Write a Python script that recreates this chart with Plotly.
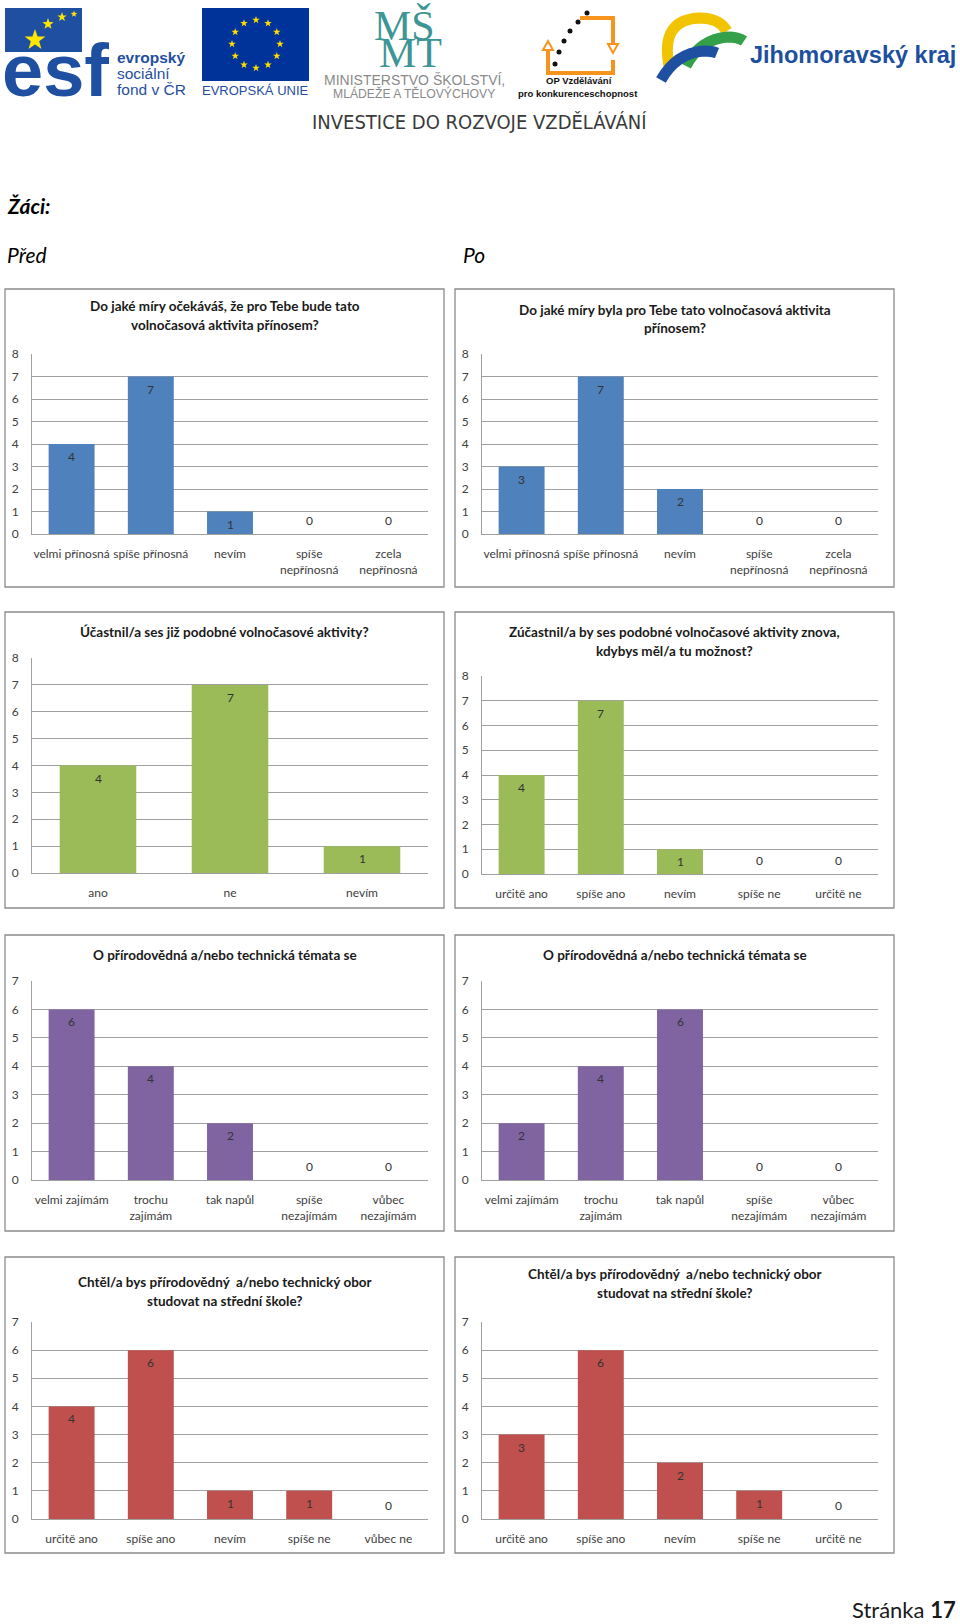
import math
import plotly.graph_objects as go

W, H = 960, 1624

# ---------------- data ----------------
t1_pred = "Do jaké míry očekáváš, že pro Tebe bude tato<br>volnočasová aktivita přínosem?"
c1 = ["velmi přínosná", "spíše přínosná", "nevím", "spíše<br>nepřínosná", "zcela<br>nepřínosná"]
v1_pred = [4, 7, 1, 0, 0]
t1_po = "Do jaké míry byla pro Tebe tato volnočasová aktivita<br>přínosem?"
v1_po = [3, 7, 2, 0, 0]

t2_pred = "Účastnil/a ses již podobné volnočasové aktivity?"
c2_pred = ["ano", "ne", "nevím"]
v2_pred = [4, 7, 1]
t2_po = "Zúčastnil/a by ses podobné volnočasové aktivity znova,<br>kdybys měl/a tu možnost?"
c2_po = ["určitě ano", "spíše ano", "nevím", "spíše ne", "určitě ne"]
v2_po = [4, 7, 1, 0, 0]

t3 = "O přírodovědná a/nebo technická témata se"
c3 = ["velmi zajímám", "trochu<br>zajímám", "tak napůl", "spíše<br>nezajímám", "vůbec<br>nezajímám"]
v3_pred = [6, 4, 2, 0, 0]
v3_po = [2, 4, 6, 0, 0]

t4 = "Chtěl/a bys přírodovědný  a/nebo technický obor<br>studovat na střední škole?"
c4_pred = ["určitě ano", "spíše ano", "nevím", "spíše ne", "vůbec ne"]
v4_pred = [4, 6, 1, 1, 0]
c4_po = ["určitě ano", "spíše ano", "nevím", "spíše ne", "určitě ne"]
v4_po = [3, 6, 2, 1, 0]

ymax = [8, 8, 8, 8, 7, 7, 7, 7]

# ---------------- styles ----------------
BLUE, GREEN, PURPLE, RED = "#4F81BD", "#9BBB59", "#8064A2", "#C0504D"
FONT = "Lato, 'Noto Sans', sans-serif"
SANS = "'Liberation Sans', Arial, sans-serif"
NARROW = "'Liberation Sans Narrow', 'DejaVu Sans Condensed', 'Liberation Sans', sans-serif"
GRID = "#a0a0a0"
ESFB = "#1f4fa0"

charts = [
    (t1_pred, c1, v1_pred, BLUE), (t1_po, c1, v1_po, BLUE),
    (t2_pred, c2_pred, v2_pred, GREEN), (t2_po, c2_po, v2_po, GREEN),
    (t3, c3, v3_pred, PURPLE), (t3, c3, v3_po, PURPLE),
    (t4, c4_pred, v4_pred, RED), (t4, c4_po, v4_po, RED),
]

# panel geometry (pixels)
boxes = [(5, 289, 444, 587), (455, 289, 894, 587),
         (5, 612, 444, 908), (455, 612, 894, 908),
         (5, 935, 444, 1231), (455, 935, 894, 1231),
         (5, 1257, 444, 1553), (455, 1257, 894, 1553)]
plots = [(32, 354, 428, 534), (482, 354, 878, 534),
         (32, 658, 428, 873), (482, 676, 878, 874),
         (32, 981, 428, 1180), (482, 981, 878, 1180),
         (32, 1322, 428, 1519), (482, 1322, 878, 1519)]
title_ys = [[306, 325], [310, 328], [632], [632, 651], [955], [955], [1282, 1301], [1274, 1293]]


def PX(x):
    return x / W


def PY(y):
    return 1 - y / H


def pth(cmds):
    out = []
    for c in cmds:
        if isinstance(c, str):
            out.append(c)
        else:
            out.append(f"{PX(c[0]):.5f},{PY(c[1]):.5f}")
    return " ".join(out)


def star_path(cx, cy, r):
    cmds = []
    for k in range(10):
        rr = r if k % 2 == 0 else r * 0.4
        a = math.pi * k / 5
        cmds += ["M" if k == 0 else "L", (cx + rr * math.sin(a), cy - rr * math.cos(a))]
    cmds.append("Z")
    return pth(cmds)


fig = go.Figure()
layout = {}
annotations = []
shapes = []

for i, (title, cats, vals, color) in enumerate(charts):
    n = i + 1
    sx = "" if n == 1 else str(n)
    xa, ya = "x" + sx, "y" + sx
    fig.add_trace(go.Bar(x=cats, y=vals, marker=dict(color=color, line=dict(width=0)),
                         xaxis=xa, yaxis=ya, showlegend=False, hoverinfo="skip"))
    x0, yt, x1, yb = plots[i]
    layout["xaxis" + sx] = dict(domain=[PX(x0), PX(x1)], anchor=ya, type="category",
                                showline=True, linecolor=GRID, linewidth=1, showgrid=False,
                                ticks="", tickangle=0, ticklabelstandoff=9, fixedrange=True,
                                automargin=False,
                                tickfont=dict(family=FONT, size=12, color="#404040"))
    layout["yaxis" + sx] = dict(domain=[PY(yb), PY(yt)], anchor=xa, range=[0, ymax[i]],
                                dtick=1, showgrid=True, gridcolor=GRID, gridwidth=1,
                                showline=True, linecolor=GRID, linewidth=1, zeroline=False,
                                ticks="", ticklabelstandoff=10, fixedrange=True,
                                automargin=False,
                                tickfont=dict(family=FONT, size=12, color="#404040"))
    for c, v in zip(cats, vals):
        annotations.append(dict(x=c, y=v, xref=xa, yref=ya, text=str(v), showarrow=False,
                                yanchor="top" if v > 0 else "bottom",
                                yshift=-3 if v > 0 else 4,
                                font=dict(family=FONT, size=12, color="#333333")))
    bx0, by0, bx1, by1 = boxes[i]
    shapes.append(dict(type="rect", xref="paper", yref="paper", x0=PX(bx0), x1=PX(bx1),
                       y0=PY(by1), y1=PY(by0), line=dict(color="#8c8c8c", width=1.3),
                       fillcolor="rgba(0,0,0,0)", layer="below"))
    for line, ty in zip(title.split("<br>"), title_ys[i]):
        annotations.append(dict(x=PX((bx0 + bx1) / 2), y=PY(ty), xref="paper", yref="paper",
                                text="<b>" + line + "</b>", showarrow=False,
                                xanchor="center", yanchor="middle",
                                font=dict(family=FONT, size=13.5, color="#1a1a1a")))


def txt(x, y, s, size, color, family=SANS, xanchor="left"):
    annotations.append(dict(x=PX(x), y=PY(y), xref="paper", yref="paper", text=s,
                            showarrow=False, xanchor=xanchor, yanchor="middle",
                            font=dict(family=family, size=size, color=color)))


# ---------------- header / page text ----------------
# ESF logo
shapes.append(dict(type="rect", xref="paper", yref="paper", x0=PX(5), x1=PX(82),
                   y0=PY(52), y1=PY(8), line=dict(width=0), fillcolor=ESFB))
txt(0, 70, "<b>esf</b>", 74, ESFB, family=SANS)
for (sx_, sy_, sr) in [(35, 40, 11), (48, 24, 6), (62, 17, 5), (74, 14, 3.5)]:
    shapes.append(dict(type="path", xref="paper", yref="paper", path=star_path(sx_, sy_, sr),
                       line=dict(width=0), fillcolor="#ffe600"))
txt(115, 58, "<b>evropský</b>", 15.5, ESFB)
txt(115, 74, "sociální", 15.5, ESFB)
txt(115, 89, "fond v ČR", 15.5, ESFB)

# EU flag
shapes.append(dict(type="rect", xref="paper", yref="paper", x0=PX(202), x1=PX(309),
                   y0=PY(81), y1=PY(8), line=dict(width=0), fillcolor="#003399"))
for k in range(12):
    a = 2 * math.pi * k / 12
    shapes.append(dict(type="path", xref="paper", yref="paper",
                       path=star_path(256 + 24 * math.sin(a), 44 - 24 * math.cos(a), 4),
                       line=dict(width=0), fillcolor="#ffdd00"))
txt(255, 91, "EVROPSKÁ UNIE", 13, ESFB, xanchor="center")

# MSMT
txt(404, 26, "MŠ", 42, "#3d9595", family="'Liberation Serif', serif", xanchor="center")
txt(410, 53, "MT", 42, "#3d9595", family="'Liberation Serif', serif", xanchor="center")
txt(414, 80, "MINISTERSTVO ŠKOLSTVÍ,", 14, "#8a8a8a", xanchor="center")
txt(414, 93, "MLÁDEŽE A TĚLOVÝCHOVY", 12.2, "#8a8a8a", xanchor="center")

# OP logo
ORANGE = "#f7941d"
shapes.append(dict(type="path", xref="paper", yref="paper",
                   path=pth(["M", (580, 18), "L", (613, 18), "L", (613, 44)]),
                   line=dict(color=ORANGE, width=4)))
shapes.append(dict(type="path", xref="paper", yref="paper",
                   path=pth(["M", (548, 50), "L", (548, 73), "L", (613, 73), "L", (613, 60)]),
                   line=dict(color=ORANGE, width=4)))
shapes.append(dict(type="path", xref="paper", yref="paper",
                   path=pth(["M", (608, 44), "L", (618, 44), "L", (613, 53), "Z"]),
                   line=dict(color=ORANGE, width=2), fillcolor="white"))
shapes.append(dict(type="path", xref="paper", yref="paper",
                   path=pth(["M", (543, 50), "L", (553, 50), "L", (548, 41), "Z"]),
                   line=dict(color=ORANGE, width=2), fillcolor="white"))
for (dx, dy) in [(555, 64), (559, 52), (564, 41), (570, 31), (578, 22), (587, 13)]:
    shapes.append(dict(type="circle", xref="paper", yref="paper", x0=PX(dx - 2.5), x1=PX(dx + 2.5),
                       y0=PY(dy + 2.5), y1=PY(dy - 2.5), line=dict(width=0), fillcolor="#111111"))
txt(579, 81, "<b>OP Vzdělávání</b>", 9.5, "#111111", xanchor="center")
txt(578, 93, "<b>pro konkurenceschopnost</b>", 9.5, "#111111", xanchor="center")

# Jihomoravsky kraj
shapes.append(dict(type="path", xref="paper", yref="paper",
                   path=pth(["M", (669, 66), "Q", (660, 19), (700, 18), "Q", (719, 18), (727, 31)]),
                   line=dict(color="#f2c400", width=11)))
shapes.append(dict(type="path", xref="paper", yref="paper",
                   path=pth(["M", (686, 66), "Q", (700, 39), (728, 37), "Q", (738, 37), (744, 41)]),
                   line=dict(color="#34a04a", width=11)))
shapes.append(dict(type="path", xref="paper", yref="paper",
                   path=pth(["M", (661, 80), "Q", (676, 53), (704, 51), "Q", (712, 51), (717, 53)]),
                   line=dict(color=ESFB, width=11)))
txt(748, 55, "<b>Jihomoravský kraj</b>", 23.5, "#1d4f9f")

txt(479, 122, "INVESTICE DO ROZVOJE VZDĚLÁVÁNÍ", 20, "#3a3a3a", family=NARROW, xanchor="center")

txt(5, 205, "<b><i>Žáci:</i></b>", 21, "#000000", family=FONT)
txt(5, 254, "<i>Před</i>", 21, "#000000", family=FONT)
txt(461, 254, "<i>Po</i>", 21, "#000000", family=FONT)
txt(958, 1609, "Stránka <b>17</b>", 22, "#1a1a1a", family=FONT, xanchor="right")

layout.update(dict(width=W, height=H,
                   margin=dict(l=0, r=0, t=0, b=0, pad=0, autoexpand=False),
                   autosize=False,
                   paper_bgcolor="white", plot_bgcolor="rgba(0,0,0,0)",
                   bargap=0.42, annotations=annotations, shapes=shapes,
                   font=dict(family=FONT)))
fig.update_layout(**layout)

fig.write_html(
    "out.html", config={"displayModeBar": False, "staticPlot": True},
    post_script=(
        "document.documentElement.style.margin='0';"
        "document.documentElement.style.overflow='hidden';"
        "document.body.style.margin='0';document.body.style.padding='0';"
        "document.body.style.overflow='hidden';"
        "var d=document.querySelector('.plotly-graph-div');"
        "d.style.position='absolute';d.style.left='0px';d.style.top='0px';"
    ),
)
